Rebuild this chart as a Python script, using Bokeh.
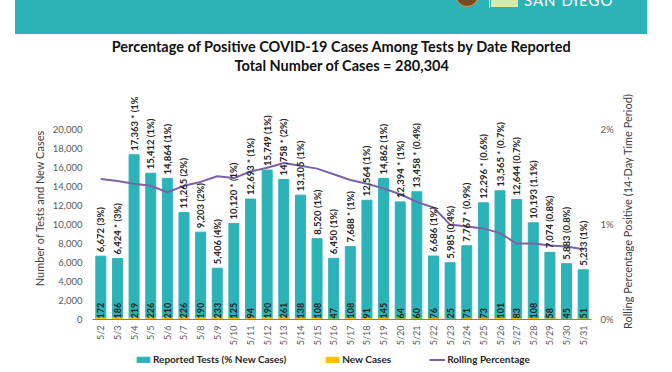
from math import pi
from bokeh.plotting import figure
from bokeh.models import (ColumnDataSource, FactorRange, Range1d, LinearAxis, FixedTicker,
                          Legend, LegendItem, Title, Div, NumeralTickFormatter, PrintfTickFormatter)
from bokeh.layouts import column, row
from bokeh.core.properties import value
from bokeh.embed import file_html
from bokeh.resources import INLINE

# ---------------- data ----------------
dates = ["5/2", "5/3", "5/4", "5/5", "5/6", "5/7", "5/8", "5/9", "5/10", "5/11",
         "5/12", "5/13", "5/14", "5/15", "5/16", "5/17", "5/18", "5/19", "5/20", "5/21",
         "5/22", "5/23", "5/24", "5/25", "5/26", "5/27", "5/28", "5/29", "5/30", "5/31"]
tests = [6672, 6424, 17363, 15412, 14864, 11265, 9203, 5406, 10120, 12693,
         15749, 14758, 13105, 8520, 6450, 7688, 12564, 14862, 12394, 13458,
         6686, 5985, 7767, 12296, 13565, 12644, 10193, 7074, 5883, 5233]
starred = [False, True, True, False, False, False, False, False, True, True,
           False, True, False, False, False, True, False, False, True, True,
           False, False, True, True, True, False, False, False, False, False]
pct_new = ["3%", "3%", "1%", "1%", "1%", "2%", "2%", "4%", "1%", "1%",
           "1%", "2%", "1%", "1%", "1%", "1%", "1%", "1%", "1%", "0.4%",
           "1%", "0.4%", "0.9%", "0.6%", "0.7%", "0.7%", "1.1%", "0.8%", "0.8%", "1%"]
new_cases = [172, 186, 219, 226, 210, 226, 190, 233, 125, 94,
             190, 261, 138, 108, 47, 108, 91, 145, 64, 60,
             76, 25, 71, 73, 101, 83, 108, 58, 45, 51]
rolling_pct = [1.48, 1.46, 1.43, 1.41, 1.34, 1.41, 1.45, 1.51, 1.49, 1.56,
               1.60, 1.65, 1.62, 1.59, 1.53, 1.47, 1.43, 1.38, 1.32, 1.24,
               1.18, 1.00, 0.98, 0.96, 0.91, 0.80, 0.80, 0.78, 0.77, 0.74]

y_ticks = [0, 2000, 4000, 6000, 8000, 10000, 12000, 14000, 16000, 18000, 20000]
pct_ticks = [0, 1, 2]

title1 = "Percentage of Positive COVID-19 Cases Among Tests by Date Reported"
title2 = "Total Number of Cases = 280,304"
right_title = "Rolling Percentage Positive (14-Day Time Period)"
legend_labels = ["Reported Tests (% New Cases)", "New Cases", "Rolling Percentage"]

# ---------------- style ----------------
FONT = "Lato"
TEAL = "#2cb3b8"
ORANGE = "#ffc000"
PURPLE = "#7e62a8"
DARK = "#262626"
GRAY = "#595959"

labels = [f"{v:,}{' *' if s else ' '} ({p})" for v, s, p in zip(tests, starred, pct_new)]
src = ColumnDataSource(dict(date=dates, tests=tests, new=new_cases,
                            new_str=[str(n) for n in new_cases], label=labels,
                            roll=rolling_pct))

p = figure(x_range=FactorRange(*dates), y_range=Range1d(0, 23500),
           width=618, height=314, output_backend="svg", toolbar_location=None,
           min_border_left=92, min_border_right=27, min_border_top=62, min_border_bottom=26)
p.extra_y_ranges = {"pct": Range1d(0, 2.35)}
p.outline_line_color = None
p.xgrid.grid_line_color = None
p.ygrid.grid_line_color = None

# titles: p.title outermost; p.above[0] sits next to the plot (an empty spacer), then title2
title_style = dict(align="center", text_font=FONT, text_font_size="14.5px",
                   text_font_style="bold", text_color="#111111")
p.title.text = title1
for k, v in title_style.items():
    setattr(p.title, k, v)
p.title.standoff = 0
p.add_layout(Title(text=" ", standoff=4, **title_style), "above")
p.add_layout(Title(text=title2, standoff=0, **title_style), "above")

# left axis
ya = p.yaxis[0]
ya.ticker = FixedTicker(ticks=y_ticks)
ya.formatter = NumeralTickFormatter(format="0,0")
ya.axis_line_color = None
ya.major_tick_line_color = None
ya.minor_tick_line_color = None
ya.major_label_standoff = 4
ya.major_label_text_font = FONT
ya.major_label_text_font_size = "9.5px"
ya.major_label_text_color = GRAY
ya.axis_label = "Number of Tests and New Cases"
ya.axis_label_text_font = FONT
ya.axis_label_text_font_size = "11px"
ya.axis_label_text_font_style = "normal"
ya.axis_label_text_color = "#404040"
ya.axis_label_standoff = 4

# x axis
xa = p.xaxis[0]
xa.axis_line_color = "#7f7f7f"
xa.major_tick_line_color = None
xa.minor_tick_line_color = None
xa.major_label_orientation = pi / 2
xa.major_label_text_font = FONT
xa.major_label_text_font_size = "9px"
xa.major_label_text_color = GRAY
xa.major_label_standoff = 0

# right axis (its title is set beside the figure so it reads bottom-to-top)
ra = LinearAxis(y_range_name="pct", ticker=FixedTicker(ticks=pct_ticks),
                formatter=PrintfTickFormatter(format="%d%%"))
ra.axis_line_color = None
ra.major_tick_line_color = None
ra.minor_tick_line_color = None
ra.major_label_text_font = FONT
ra.major_label_text_font_size = "9.5px"
ra.major_label_text_color = GRAY
ra.major_label_standoff = 3
p.add_layout(ra, "right")

# glyphs
bar_style = dict(width=0.6)
p.vbar(x="date", top="tests", color=TEAL, source=src, **bar_style)
p.vbar(x="date", top="new", color=ORANGE, source=src, **bar_style)
p.line(x="date", y="roll", y_range_name="pct", line_color=PURPLE, line_width=2, source=src)

p.text(x="date", y="tests", text="label", angle=pi / 2, text_align="left",
       text_baseline="middle", y_offset=-4, text_font=value(FONT),
       text_font_size="9.5px", text_font_style="bold", text_color=DARK, source=src)
p.text(x="date", y=0, text="new_str", angle=pi / 2, text_align="left",
       text_baseline="middle", y_offset=-1, text_font=value(FONT),
       text_font_size="9px", text_font_style="bold", text_color=DARK, source=src)

# legend strip: its own small figure holding hidden copies of the series,
# so the legend sits inside a frame below the chart
lf = figure(width=672, height=20, output_backend="svg", toolbar_location=None,
            x_range=FactorRange(*dates), y_range=Range1d(-2, -1), min_border=0)
lf.xaxis.visible = False
lf.yaxis.visible = False
lf.xgrid.grid_line_color = None
lf.ygrid.grid_line_color = None
lf.outline_line_color = None
l_tests = lf.vbar(x="date", top="tests", color=TEAL, source=src, visible=False, **bar_style)
l_new = lf.vbar(x="date", top="new", color=ORANGE, source=src, visible=False, **bar_style)
l_roll = lf.line(x="date", y="roll", line_color=PURPLE, line_width=2, source=src, visible=False)
legend = Legend(items=[
    LegendItem(label=legend_labels[0], renderers=[l_tests]),
    LegendItem(label=legend_labels[1], renderers=[l_new]),
    LegendItem(label=legend_labels[2], renderers=[l_roll]),
], orientation="horizontal", location=(135, 3), spacing=38,
    glyph_width=16, glyph_height=7, label_standoff=2, padding=0, margin=0,
    border_line_color=None, background_fill_alpha=0, inactive_fill_alpha=0,
    label_text_font=FONT, label_text_font_size="10px", label_text_font_style="bold",
    label_text_color=DARK)
lf.add_layout(legend, "center")

banner_html = (
    '<div style="position:relative;width:632px;height:34px;overflow:hidden;">'
    '<div style="position:absolute;left:440px;top:-17px;width:24px;height:24px;border-radius:50%;'
    'background:#7a4a22;border:1px solid #d8a449;"></div>'
    '<div style="position:absolute;left:474px;top:0px;width:1px;height:8px;background:#d6f1f2;"></div>'
    '<div style="position:absolute;left:476px;top:0px;width:27px;height:7px;background:#d9eaa6;"></div>'
    '<span style="position:absolute;left:509px;top:-8px;color:#ffffff;font-family:Lato;'
    'font-size:15px;line-height:16px;letter-spacing:1px;">SAN DIEGO</span>'
    '</div>'
)
banner = Div(text=banner_html, width=632, height=34, margin=(0, 0, 0, 15),
             styles={"background-color": TEAL})

right_html = (
    '<div style="position:relative;width:20px;height:314px;">'
    '<div style="position:absolute;left:0px;top:28px;width:20px;height:300px;'
    'writing-mode:vertical-rl;transform:rotate(180deg);text-align:center;line-height:20px;'
    'font-family:Lato;font-size:11px;color:#404040;white-space:nowrap;">'
    + right_title + '</div></div>'
)
right_div = Div(text=right_html, width=20, height=314, margin=(0, 0, 0, 0))

layout = column(banner, row(p, right_div, spacing=0), lf, spacing=0)
open("out.html", "w").write(file_html(layout, INLINE))
